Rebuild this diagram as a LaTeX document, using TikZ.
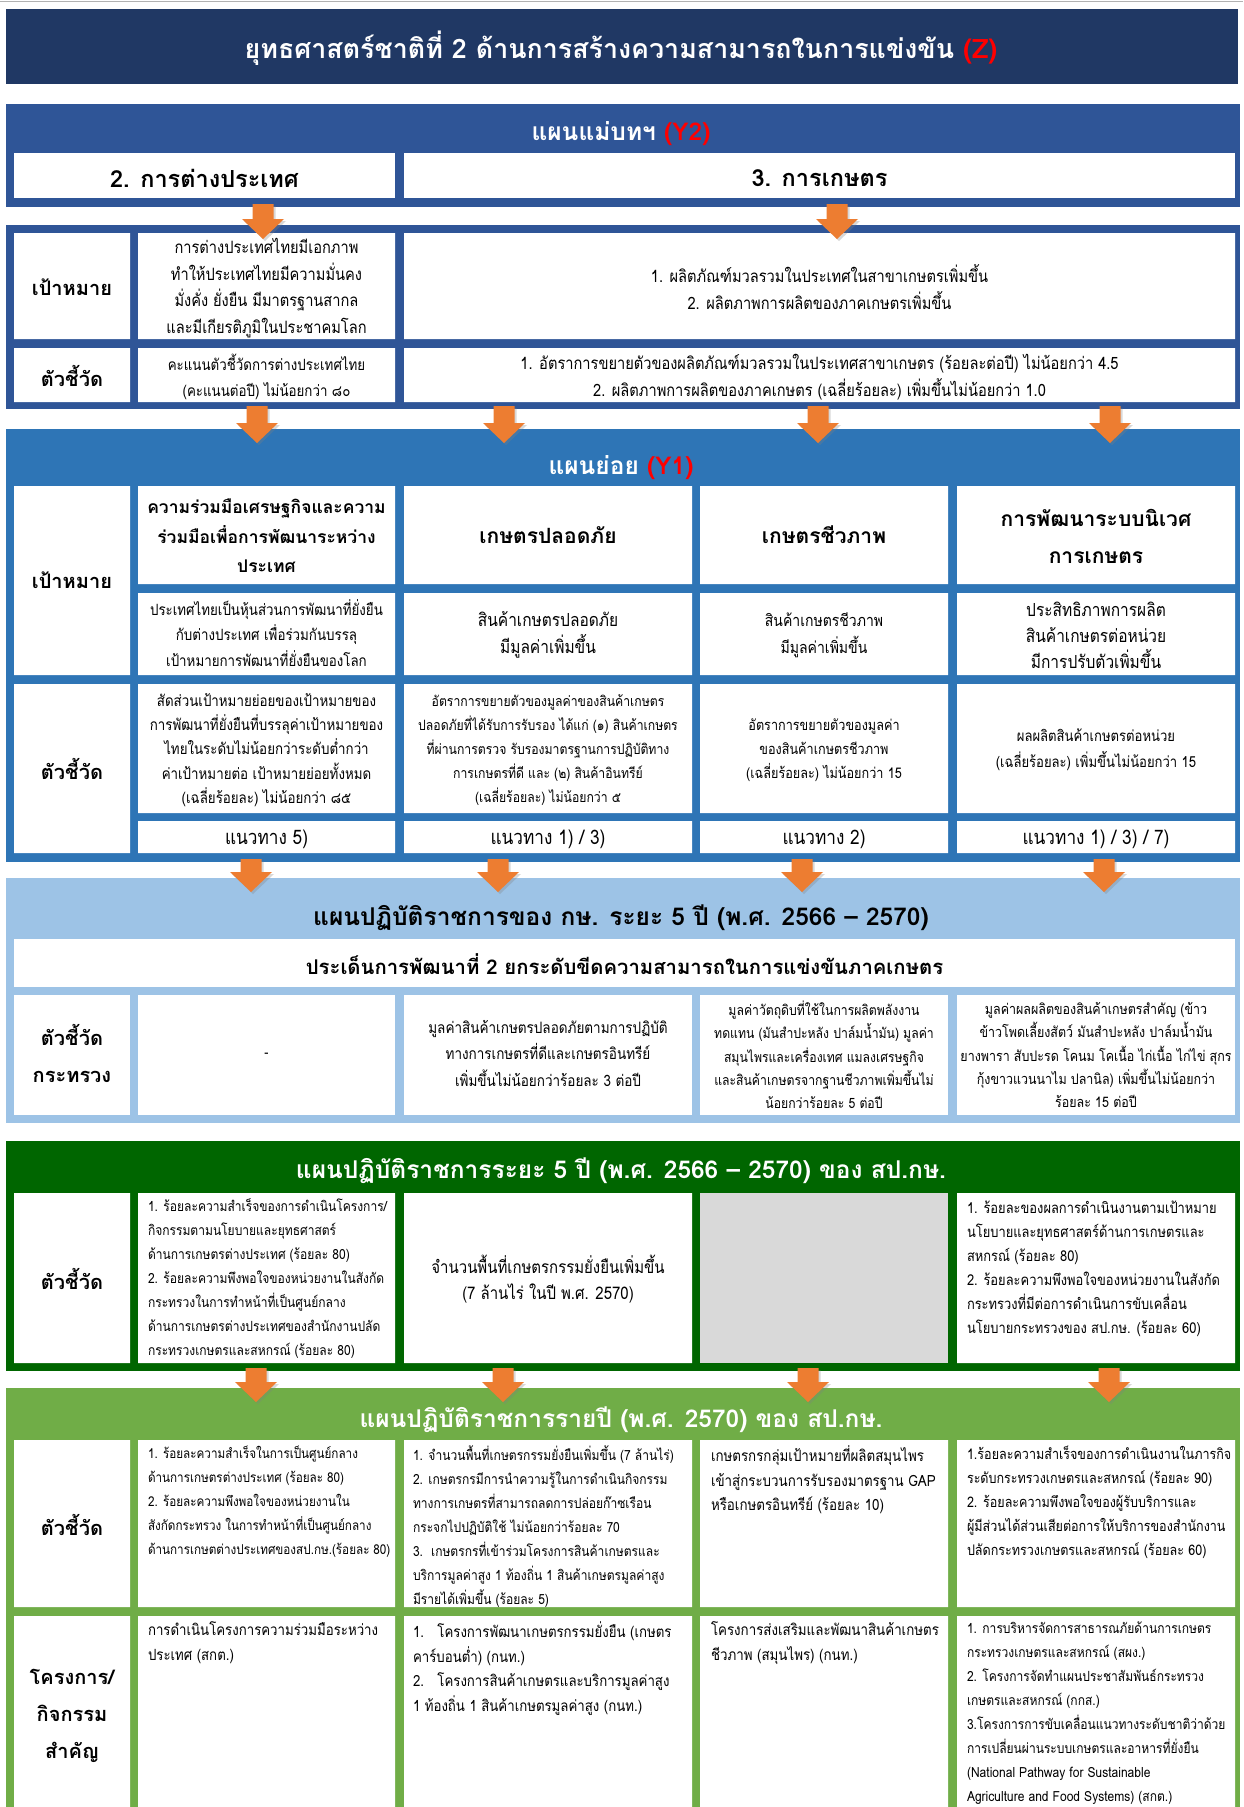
\documentclass[tikz,border=0pt]{standalone}
\usepackage{fontspec}
\setmainfont[Script=Thai]{Loma}
\newfontfamily\narrowthai[Script=Thai,FakeStretch=0.86]{Loma}
\usetikzlibrary{arrows.meta,fit,calc,shadows}

\definecolor{titlenavy}{HTML}{203864}
\definecolor{masterblue}{HTML}{2F5597}
\definecolor{subblue}{HTML}{2E75B6}
\definecolor{moacblue}{HTML}{9DC3E6}
\definecolor{opsgreen}{HTML}{006600}
\definecolor{yeargreen}{HTML}{70AD47}
\definecolor{floworange}{HTML}{ED7D31}
\definecolor{blankgrey}{HTML}{D9D9D9}

% block arrow from one panel down into the next: x, source, target
\newcommand\dropflow[3]{%
  \fill[flowfill] let \p1=(#2.south), \p2=(#3.north) in
    (#1pt-10.5pt,\y1+3pt) -- (#1pt+10.5pt,\y1+3pt) -- (#1pt+10.5pt,\y2+6pt)
    -- (#1pt+21pt,\y2+6pt) -- (#1pt,\y2-14pt) -- (#1pt-21pt,\y2+6pt)
    -- (#1pt-10.5pt,\y2+6pt) -- cycle;}

\begin{document}
\begin{tikzpicture}[x=1pt,y=-1pt,
    every node/.append style={inner sep=0pt, outer sep=0pt},
    panel/.style={draw=none},
    txt/.style={align=center, font=\narrowthai\fontsize{14.5}{24}\selectfont},
    lefttext/.style={anchor=north west, align=left, font=\narrowthai\fontsize{14}{24}\selectfont},
    lbl/.style={align=center, font=\bfseries\fontsize{20}{37}\selectfont},
    boxhead/.style={align=center, font=\bfseries\fontsize{21}{37}\selectfont},
    sectitle/.style={font=\bfseries\fontsize{24.5}{28}\selectfont, text=white},
    flowfill/.style={fill=floworange, drop shadow={opacity=0.3, shadow xshift=2pt, shadow yshift=-2pt}}]
    \useasboundingbox (0,0) rectangle (1243,1807);
    \fill[white] (0,0) rectangle (1243,1807);
    \draw[gray!60, line width=1.5pt] (0,1.5) -- (1243,1.5);

    % national strategy
    \node[panel, fill=titlenavy, fit={(6,9) (1238,84)}] (zbar) {};
    \node[font=\bfseries\fontsize{26.8}{30}\selectfont, text=white] (ztitle) at (621,48) {ยุทธศาสตร์ชาติที่ 2 ด้านการสร้างความสามารถในการแข่งขัน \textcolor{red}{(Z)}};

    % master plan Y2
    \node[panel, fill=masterblue, fit={(6,104) (1240,207)}] (y2top) {};
    \node[sectitle] (y2title) at (621,134) {แผนแม่บทฯ \textcolor{red}{(Y2)}};
    \fill[white] (14,153) rectangle (395,198);
    \fill[white] (404,153) rectangle (1235,198);
    \node[boxhead, font=\bfseries\fontsize{23.5}{28}\selectfont] (frn) at (204.5,178) {2. การต่างประเทศ};
    \node[boxhead, font=\bfseries\fontsize{23.5}{28}\selectfont] (agr) at (819.5,178) {3. การเกษตร};

    \node[panel, fill=masterblue, fit={(6,225) (1240,409)}] (y2low) {};
    \fill[white] (14,233) rectangle (130,339) (138,233) rectangle (395,339) (404,233) rectangle (1235,339);
    \fill[white] (14,348) rectangle (130,402) (138,348) rectangle (395,402) (404,348) rectangle (1235,402);
    \node[lbl] (y2goallbl) at (72,287) {เป้าหมาย};
    \node[txt, font=\narrowthai\fontsize{17}{26.5}\selectfont] (y2goalfrn) at (266.5,288) {การต่างประเทศไทยมีเอกภาพ\\ทำให้ประเทศไทยมีความมั่นคง\\มั่งคั่ง ยั่งยืน มีมาตรฐานสากล\\และมีเกียรติภูมิในประชาคมโลก};
    \node[txt, font=\narrowthai\fontsize{17}{27.5}\selectfont] (y2goalagr) at (819.5,287) {1. ผลิตภัณฑ์มวลรวมในประเทศในสาขาเกษตรเพิ่มขึ้น\\2. ผลิตภาพการผลิตของภาคเกษตรเพิ่มขึ้น};
    \node[lbl] (y2kpilbl) at (72,376) {ตัวชี้วัด};
    \node[txt, font=\narrowthai\fontsize{15.5}{26.5}\selectfont] (y2kpifrn) at (266.5,377) {คะแนนตัวชี้วัดการต่างประเทศไทย\\(คะแนนต่อปี) ไม่น้อยกว่า ๘๐};
    \node[txt, font=\narrowthai\fontsize{17}{26.5}\selectfont] (y2kpiagr) at (819.5,377) {1. อัตราการขยายตัวของผลิตภัณฑ์มวลรวมในประเทศสาขาเกษตร (ร้อยละต่อปี) ไม่น้อยกว่า 4.5\\2. ผลิตภาพการผลิตของภาคเกษตร (เฉลี่ยร้อยละ) เพิ่มขึ้นไม่น้อยกว่า 1.0};

    % sub plan Y1
    \node[panel, fill=subblue, fit={(6,429) (1240,862)}] (y1) {};
    \node[sectitle] (y1title) at (621,468) {แผนย่อย \textcolor{red}{(Y1)}};
    \fill[white] (14,486) rectangle (130,675) (14,684) rectangle (130,853);
    \foreach \xa/\xb in {138/395, 404/692, 700/948, 957/1235}
      \fill[white] (\xa,486) rectangle (\xb,584) (\xa,593) rectangle (\xb,675)
        (\xa,684) rectangle (\xb,813) (\xa,821) rectangle (\xb,853);
    \node[lbl] (y1goallbl) at (72,580) {เป้าหมาย};
    \node[boxhead, font=\bfseries\fontsize{17.5}{29.5}\selectfont] (y1headA) at (266.5,536) {ความร่วมมือเศรษฐกิจและความ\\ร่วมมือเพื่อการพัฒนาระหว่าง\\ประเทศ};
    \node[boxhead] (y1headB) at (548,535) {เกษตรปลอดภัย};
    \node[boxhead] (y1headC) at (824,535) {เกษตรชีวภาพ};
    \node[boxhead] (y1headD) at (1096,536) {การพัฒนาระบบนิเวศ\\การเกษตร};
    \node[txt, font=\narrowthai\fontsize{15.5}{25.5}\selectfont] (y1goalA) at (266.5,633) {ประเทศไทยเป็นหุ้นส่วนการพัฒนาที่ยั่งยืน\\กับต่างประเทศ เพื่อร่วมกันบรรลุ\\เป้าหมายการพัฒนาที่ยั่งยืนของโลก};
    \node[txt, font=\narrowthai\fontsize{18}{27}\selectfont] (y1goalB) at (548,635) {สินค้าเกษตรปลอดภัย\\มีมูลค่าเพิ่มขึ้น};
    \node[txt, font=\narrowthai\fontsize{16.3}{27}\selectfont] (y1goalC) at (824,635) {สินค้าเกษตรชีวภาพ\\มีมูลค่าเพิ่มขึ้น};
    \node[txt, font=\narrowthai\fontsize{18}{26}\selectfont] (y1goalD) at (1096,635) {ประสิทธิภาพการผลิต\\สินค้าเกษตรต่อหน่วย\\มีการปรับตัวเพิ่มขึ้น};
    \node[lbl] (y1kpilbl) at (72,769) {ตัวชี้วัด};
    \node[txt, font=\narrowthai\fontsize{15.5}{24.2}\selectfont] (y1kpiA) at (266.5,750) {สัดส่วนเป้าหมายย่อยของเป้าหมายของ\\การพัฒนาที่ยั่งยืนที่บรรลุค่าเป้าหมายของ\\ไทยในระดับไม่น้อยกว่าระดับต่ำกว่า\\ค่าเป้าหมายต่อ เป้าหมายย่อยทั้งหมด\\(เฉลี่ยร้อยละ) ไม่น้อยกว่า ๘๕};
    \node[txt, font=\narrowthai\fontsize{14.2}{24.2}\selectfont] (y1kpiB) at (548,750) {อัตราการขยายตัวของมูลค่าของสินค้าเกษตร\\ปลอดภัยที่ได้รับการรับรอง ได้แก่ (๑) สินค้าเกษตร\\ที่ผ่านการตรวจ รับรองมาตรฐานการปฏิบัติทาง\\การเกษตรที่ดี และ (๒) สินค้าอินทรีย์\\(เฉลี่ยร้อยละ) ไม่น้อยกว่า ๕};
    \node[txt, font=\narrowthai\fontsize{14.7}{24.2}\selectfont] (y1kpiC) at (824,750) {อัตราการขยายตัวของมูลค่า\\ของสินค้าเกษตรชีวภาพ\\(เฉลี่ยร้อยละ) ไม่น้อยกว่า 15};
    \node[txt, font=\narrowthai\fontsize{15.2}{26}\selectfont] (y1kpiD) at (1096,750) {ผลผลิตสินค้าเกษตรต่อหน่วย\\(เฉลี่ยร้อยละ) เพิ่มขึ้นไม่น้อยกว่า 15};
    \node[txt, font=\narrowthai\fontsize{20}{22}\selectfont] (y1wayA) at (266.5,839) {แนวทาง 5)};
    \node[txt, font=\narrowthai\fontsize{20}{22}\selectfont] (y1wayB) at (548,839) {แนวทาง 1) / 3)};
    \node[txt, font=\narrowthai\fontsize{20}{22}\selectfont] (y1wayC) at (824,839) {แนวทาง 2)};
    \node[txt, font=\narrowthai\fontsize{20}{22}\selectfont] (y1wayD) at (1096,839) {แนวทาง 1) / 3) / 7)};

    % ministry 5-year plan
    \node[panel, fill=moacblue, fit={(6,878) (1240,1123)}] (moac) {};
    \node[sectitle, text=black] (moactitle) at (621,918) {แผนปฏิบัติราชการของ กษ. ระยะ 5 ปี (พ.ศ. 2566 – 2570)};
    \fill[white] (14,939) rectangle (1235,987);
    \fill[white] (14,995) rectangle (130,1115);
    \foreach \xa/\xb in {138/395, 404/692, 700/948, 957/1235}
      \fill[white] (\xa,995) rectangle (\xb,1115);
    \node[boxhead, font=\bfseries\fontsize{20.3}{24}\selectfont] (moacissue) at (624.5,964) {ประเด็นการพัฒนาที่ 2 ยกระดับขีดความสามารถในการแข่งขันภาคเกษตร};
    \node[lbl] (moaclbl) at (72,1053) {ตัวชี้วัด\\กระทรวง};
    \node[txt] (moacA) at (266.5,1055) {-};
    \node[txt, font=\narrowthai\fontsize{15.7}{26.5}\selectfont] (moacB) at (548,1053) {มูลค่าสินค้าเกษตรปลอดภัยตามการปฏิบัติ\\ทางการเกษตรที่ดีและเกษตรอินทรีย์\\เพิ่มขึ้นไม่น้อยกว่าร้อยละ 3 ต่อปี};
    \node[txt, font=\narrowthai\fontsize{14.2}{23.3}\selectfont] (moacC) at (824,1055) {มูลค่าวัตถุดิบที่ใช้ในการผลิตพลังงาน\\ทดแทน (มันสำปะหลัง ปาล์มน้ำมัน) มูลค่า\\สมุนไพรและเครื่องเทศ แมลงเศรษฐกิจ\\และสินค้าเกษตรจากฐานชีวภาพเพิ่มขึ้นไม่\\น้อยกว่าร้อยละ 5 ต่อปี};
    \node[txt, font=\narrowthai\fontsize{14.5}{23.3}\selectfont] (moacD) at (1096,1055) {มูลค่าผลผลิตของสินค้าเกษตรสำคัญ (ข้าว\\ข้าวโพดเลี้ยงสัตว์ มันสำปะหลัง ปาล์มน้ำมัน\\ยางพารา สับปะรด โคนม โคเนื้อ ไก่เนื้อ ไก่ไข่ สุกร\\กุ้งขาวแวนนาไม ปลานิล) เพิ่มขึ้นไม่น้อยกว่า\\ร้อยละ 15 ต่อปี};

    % OPS 5-year plan
    \node[panel, fill=opsgreen, fit={(6,1141) (1240,1371)}] (ops) {};
    \node[sectitle] (opstitle) at (621,1171) {แผนปฏิบัติราชการระยะ 5 ปี (พ.ศ. 2566 – 2570) ของ สป.กษ.};
    \fill[white] (14,1193) rectangle (130,1363) (138,1193) rectangle (395,1363)
      (404,1193) rectangle (692,1363) (957,1193) rectangle (1235,1363);
    \fill[blankgrey] (700,1193) rectangle (948,1363);
    \node[lbl] (opslbl) at (72,1279) {ตัวชี้วัด};
    \node[lefttext] (opsA) at (148,1199) {1. ร้อยละความสำเร็จของการดำเนินโครงการ/\\กิจกรรมตามนโยบายและยุทธศาสตร์\\ด้านการเกษตรต่างประเทศ (ร้อยละ 80)\\2. ร้อยละความพึงพอใจของหน่วยงานในสังกัด\\กระทรวงในการทำหน้าที่เป็นศูนย์กลาง\\ด้านการเกษตรต่างประเทศของสำนักงานปลัด\\กระทรวงเกษตรและสหกรณ์ (ร้อยละ 80)};
    \node[txt, font=\narrowthai\fontsize{17.4}{26.5}\selectfont] (opsB) at (548,1279) {จำนวนพื้นที่เกษตรกรรมยั่งยืนเพิ่มขึ้น\\(7 ล้านไร่ ในปี พ.ศ. 2570)};
    \node[lefttext, font=\narrowthai\fontsize{15}{24}\selectfont] (opsD) at (967,1201) {1. ร้อยละของผลการดำเนินงานตามเป้าหมาย\\นโยบายและยุทธศาสตร์ด้านการเกษตรและ\\สหกรณ์ (ร้อยละ 80)\\2. ร้อยละความพึงพอใจของหน่วยงานในสังกัด\\กระทรวงที่มีต่อการดำเนินการขับเคลื่อน\\นโยบายกระทรวงของ สป.กษ. (ร้อยละ 60)};

    % OPS annual plan
    \node[panel, fill=yeargreen, fit={(6,1388) (1240,1815)}] (annual) {};
    \node[sectitle] (annualtitle) at (621,1420) {แผนปฏิบัติราชการรายปี (พ.ศ. 2570) ของ สป.กษ.};
    \fill[white] (14,1440) rectangle (130,1607) (14,1616) rectangle (130,1815);
    \foreach \xa/\xb in {138/395, 404/692, 700/948, 957/1235}
      \fill[white] (\xa,1440) rectangle (\xb,1607) (\xa,1616) rectangle (\xb,1815);
    \node[lbl] (annkpilbl) at (72,1525) {ตัวชี้วัด};
    \node[lefttext, font=\narrowthai\fontsize{13.6}{24}\selectfont] (annkpiA) at (148,1446) {1. ร้อยละความสำเร็จในการเป็นศูนย์กลาง\\ด้านการเกษตรต่างประเทศ (ร้อยละ 80)\\2. ร้อยละความพึงพอใจของหน่วยงานใน\\สังกัดกระทรวง ในการทำหน้าที่เป็นศูนย์กลาง\\ด้านการเกษตต่างประเทศของสป.กษ.(ร้อยละ 80)};
    \node[lefttext] (annkpiB) at (413,1446) {1. จำนวนพื้นที่เกษตรกรรมยั่งยืนเพิ่มขึ้น (7 ล้านไร่)\\2. เกษตรกรมีการนำความรู้ในการดำเนินกิจกรรม\\ทางการเกษตรที่สามารถลดการปล่อยก๊าซเรือน\\กระจกไปปฏิบัติใช้ ไม่น้อยกว่าร้อยละ 70\\3.\ \ เกษตรกรที่เข้าร่วมโครงการสินค้าเกษตรและ\\บริการมูลค่าสูง 1 ท้องถิ่น 1 สินค้าเกษตรมูลค่าสูง\\มีรายได้เพิ่มขึ้น (ร้อยละ 5)};
    \node[lefttext, font=\narrowthai\fontsize{15.5}{24.5}\selectfont] (annkpiC) at (711,1446) {เกษตรกรกลุ่มเป้าหมายที่ผลิตสมุนไพร\\เข้าสู่กระบวนการรับรองมาตรฐาน GAP\\หรือเกษตรอินทรีย์ (ร้อยละ 10)};
    \node[lefttext, font=\narrowthai\fontsize{14.6}{24}\selectfont] (annkpiD) at (967,1446) {1.ร้อยละความสำเร็จของการดำเนินงานในภารกิจ\\ระดับกระทรวงเกษตรและสหกรณ์ (ร้อยละ 90)\\2. ร้อยละความพึงพอใจของผู้รับบริการและ\\ผู้มีส่วนได้ส่วนเสียต่อการให้บริการของสำนักงาน\\ปลัดกระทรวงเกษตรและสหกรณ์ (ร้อยละ 60)};

    \node[lbl] (annprjlbl) at (72,1716) {โครงการ/\\กิจกรรม\\สำคัญ};
    \node[lefttext, font=\narrowthai\fontsize{15.4}{25}\selectfont] (annprjA) at (148,1622) {การดำเนินโครงการความร่วมมือระหว่าง\\ประเทศ (สกต.)};
    \node[lefttext, font=\narrowthai\fontsize{15.4}{24.5}\selectfont] (annprjB) at (413,1622) {1.\ \ \ โครงการพัฒนาเกษตรกรรมยั่งยืน (เกษตร\\คาร์บอนต่ำ) (กนท.)\\2.\ \ \ โครงการสินค้าเกษตรและบริการมูลค่าสูง\\1 ท้องถิ่น 1 สินค้าเกษตรมูลค่าสูง (กนท.)};
    \node[lefttext, font=\narrowthai\fontsize{15.5}{25}\selectfont] (annprjC) at (711,1622) {โครงการส่งเสริมและพัฒนาสินค้าเกษตร\\ชีวภาพ (สมุนไพร) (กนท.)};
    \node[lefttext] (annprjD) at (967,1622) {1. การบริหารจัดการสาธารณภัยด้านการเกษตร\\กระทรวงเกษตรและสหกรณ์ (สผง.)\\2. โครงการจัดทำแผนประชาสัมพันธ์กระทรวง\\เกษตรและสหกรณ์ (กกส.)\\3.โครงการการขับเคลื่อนแนวทางระดับชาติว่าด้วย\\การเปลี่ยนผ่านระบบเกษตรและอาหารที่ยั่งยืน\\(National Pathway for Sustainable\\Agriculture and Food Systems) (สกต.)};

    % arrows between the levels
    \dropflow{263}{y2top}{y2low}
    \dropflow{837}{y2top}{y2low}
    \dropflow{257}{y2low}{y1}
    \dropflow{504}{y2low}{y1}
    \dropflow{818}{y2low}{y1}
    \dropflow{1110}{y2low}{y1}
    \dropflow{251}{y1}{moac}
    \dropflow{498}{y1}{moac}
    \dropflow{802}{y1}{moac}
    \dropflow{1104}{y1}{moac}
    \dropflow{256}{ops}{annual}
    \dropflow{503}{ops}{annual}
    \dropflow{808}{ops}{annual}
    \dropflow{1109}{ops}{annual}
\end{tikzpicture}
\end{document}
